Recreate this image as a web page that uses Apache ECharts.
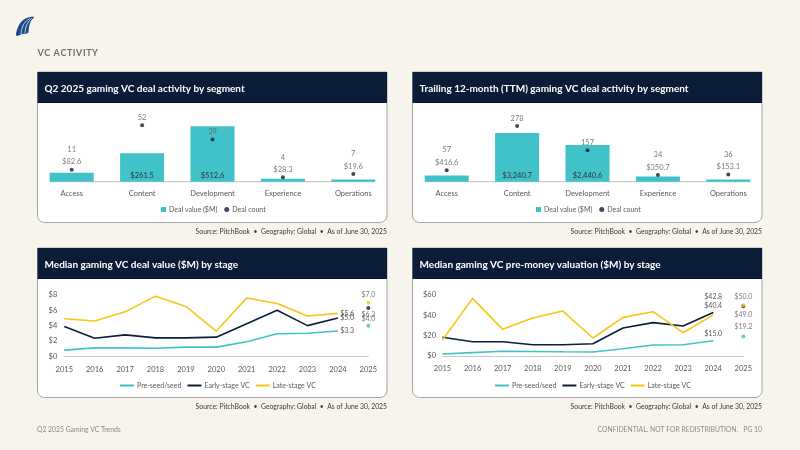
<!DOCTYPE html>
<html>
<head>
<meta charset="utf-8">
<script src="https://cdn.jsdelivr.net/npm/echarts@6/dist/echarts.min.js"></script>
<style>
  html, body { margin: 0; padding: 0; background: #f7f4ee; }
  #main { width: 800px; height: 450px; }
</style>
</head>
<body>
<div id="main"></div>
<script>
// data
const segments = ["Access", "Content", "Development", "Experience", "Operations"];
const q2DealValue = [82.6, 261.5, 512.6, 28.3, 19.6];
const q2DealCount = [11, 52, 39, 4, 7];
const ttmDealValue = [416.6, 3240.7, 2440.6, 350.7, 153.1];
const ttmDealCount = [57, 278, 157, 34, 36];

const years = ["2015", "2016", "2017", "2018", "2019", "2020", "2021", "2022", "2023", "2024", "2025"];
const stages = ["Pre-seed/seed", "Early-stage VC", "Late-stage VC"];
// 2015-2024, 2025 is a separate YTD point
const dealPreSeed = [0.8, 1.1, 1.1, 1.05, 1.2, 1.2, 1.9, 2.95, 3.0, 3.3];
const dealEarly = [3.9, 2.35, 2.8, 2.4, 2.4, 2.5, 4.25, 6.0, 4.0, 5.0];
const dealLate = [4.9, 4.6, 5.8, 7.85, 6.5, 3.3, 7.6, 6.9, 5.25, 5.6];
const dealYtd = [4.0, 6.3, 7.0];
const valPreSeed = [2.0, 3.3, 4.6, 4.5, 4.2, 4.0, 7.2, 10.8, 11.0, 15.0];
const valEarly = [18.4, 14.0, 14.0, 11.1, 11.0, 12.0, 27.5, 32.8, 29.5, 42.8];
const valLate = [15.7, 56.7, 26.2, 37.4, 44.2, 17.7, 38.0, 43.6, 22.9, 40.4];
const valYtd = [19.2, 49.0, 50.0];

const TEAL = "#40c2c8";
const NAVY = "#0b1e3c";
const YELLOW = "#f6c615";
const LABEL = "#595959";
const FONT = "'Liberation Sans Narrow', Lato, sans-serif";
const TITLE_FONT = "Lato, 'Open Sans', sans-serif";
const FS = 7.5;
const LINE_FS = 7;

function money(v) {
  return "$" + v.toLocaleString("en-US", { minimumFractionDigits: 1, maximumFractionDigits: 1 });
}

const panels = [
  { x: 37.5, y: 72, w: 349.5, h: 150.5, title: "Q2 2025 gaming VC deal activity by segment" },
  { x: 412.5, y: 72, w: 349.5, h: 150.5, title: "Trailing 12-month (TTM) gaming VC deal activity by segment" },
  { x: 37.5, y: 248, w: 349.5, h: 149.5, title: "Median gaming VC deal value ($M) by stage" },
  { x: 412.5, y: 248, w: 349.5, h: 149.5, title: "Median gaming VC pre-money valuation ($M) by stage" }
];

const graphics = [];
panels.forEach(function (p) {
  graphics.push({
    type: "rect", shape: { x: p.x, y: p.y, width: p.w, height: p.h, r: [0, 0, 7, 7] },
    style: { fill: "#ffffff", stroke: "#a5a5a5", lineWidth: 1 }, z: -10
  });
  graphics.push({
    type: "rect", shape: { x: p.x, y: p.y, width: p.w, height: 31 },
    style: { fill: "#0a1c37" }, z: -9
  });
  graphics.push({
    type: "text", x: p.x + 7, y: p.y + 16.5,
    style: { text: p.title, fill: "#ffffff", font: "bold 10px " + TITLE_FONT, textVerticalAlign: "middle" }
  });
  graphics.push({
    type: "text", x: p.x + p.w, y: p.y + p.h + 9.5,
    style: {
      text: "Source: PitchBook  \u2022  Geography: Global  \u2022  As of June 30, 2025",
      fill: "#3a3a3a", font: "6.8px " + TITLE_FONT, textAlign: "right", textVerticalAlign: "middle"
    }
  });
});
// baselines of the bar charts
graphics.push({ type: "line", shape: { x1: 50, y1: 181.7, x2: 375, y2: 181.7 }, style: { stroke: "#bfbfbf", lineWidth: 1 }, z: -5 });
graphics.push({ type: "line", shape: { x1: 425, y1: 181.7, x2: 750, y2: 181.7 }, style: { stroke: "#bfbfbf", lineWidth: 1 }, z: -5 });
// logo
graphics.push({
  type: "polygon", shape: { points: [[16, 34], [18, 27], [22, 21], [28, 17.5], [34, 17], [31, 21], [29, 27], [28, 33], [22, 34], [17, 36]], smooth: 0.3 },
  style: { fill: "#1b4a8a" }
});
graphics.push({ type: "polyline", shape: { points: [[21, 34], [22.5, 27], [25.5, 22], [30, 18]], smooth: 0.5 }, style: { stroke: "#f7f4ee", lineWidth: 0.8 } });
graphics.push({ type: "polyline", shape: { points: [[25, 33], [26, 27], [28.5, 22], [32, 18]], smooth: 0.5 }, style: { stroke: "#f7f4ee", lineWidth: 0.8 } });
// page texts
graphics.push({ type: "text", x: 37.5, y: 53.5, style: { text: "VC ACTIVITY".split("").join("\u200A"), fill: "#6e6e6e", font: "bold 9px " + TITLE_FONT, textVerticalAlign: "middle" } });
graphics.push({ type: "text", x: 37, y: 430, style: { text: "Q2 2025 Gaming VC Trends", fill: "#8a8a8a", font: "6.8px " + TITLE_FONT, textVerticalAlign: "middle" } });
graphics.push({ type: "text", x: 762, y: 430, style: { text: "CONFIDENTIAL. NOT FOR REDISTRIBUTION.   PG 10", fill: "#8a8a8a", font: "6.8px " + TITLE_FONT, textAlign: "right", textVerticalAlign: "middle" } });

function barSeries(values, xi, yi) {
  const max = Math.max.apply(null, values);
  return {
    name: "Deal value ($M)", type: "bar", xAxisIndex: xi, yAxisIndex: yi, barWidth: 44,
    itemStyle: { color: TEAL }, z: 2,
    data: values.map(function (v) {
      return { value: v, label: { show: v > 0.3 * max } };
    }),
    label: {
      position: "insideBottom", distance: 2, color: "#333", fontSize: FS, fontFamily: FONT,
      formatter: function (p) { return money(p.value); }
    }
  };
}
function countSeries(counts, values, xi, yi) {
  const max = Math.max.apply(null, values);
  return {
    name: "Deal count", type: "scatter", xAxisIndex: xi, yAxisIndex: yi, symbolSize: 4,
    itemStyle: { color: NAVY }, z: 3,
    data: counts,
    label: {
      show: true, position: "top", distance: -0.5, lineHeight: 12.5, color: LABEL, fontSize: FS, fontFamily: FONT,
      formatter: function (p) {
        const v = values[p.dataIndex];
        return v > 0.3 * max ? String(p.value) : p.value + "\n" + money(v);
      }
    }
  };
}
function lineSeries(name, values, color, xi, yi, lbl) {
  return {
    name: name, type: "line", xAxisIndex: xi, yAxisIndex: yi, symbol: "circle", symbolSize: 0.5,
    lineStyle: { color: color, width: 1.6 }, itemStyle: { color: color }, z: 3,
    emphasis: { disabled: true },
    data: values.map(function (v, i) {
      return i === values.length - 1 ? { value: v, label: Object.assign({ show: true }, lbl) } : v;
    }),
    label: {
      show: false, color: LABEL, fontSize: LINE_FS, fontFamily: FONT,
      formatter: function (p) { return money(p.value); }
    }
  };
}
function ytdSeries(name, value, color, xi, yi, pos, dist) {
  return {
    name: name + " 2025", type: "scatter", xAxisIndex: xi, yAxisIndex: yi, symbolSize: 4,
    itemStyle: { color: color }, z: 4,
    data: [[years[10], value]],
    label: {
      show: true, position: pos, distance: dist, color: LABEL, fontSize: LINE_FS, fontFamily: FONT,
      formatter: function (p) { return money(p.value[1]); }
    }
  };
}

const axisLabelStyle = { color: LABEL, fontSize: FS, fontFamily: FONT };

function catAxis(grid, data, lines) {
  return {
    type: "category", gridIndex: grid, data: data, boundaryGap: !lines,
    axisLine: { show: !!lines, lineStyle: { color: "#c8c8c8", width: 1 } },
    axisTick: { show: false },
    axisLabel: Object.assign({ margin: lines ? 9 : 8, interval: 0 }, axisLabelStyle)
  };
}
function hiddenAxis(grid, max) {
  return { type: "value", gridIndex: grid, min: 0, max: max, show: false, splitLine: { show: false } };
}
function moneyAxis(grid, max, interval, margin) {
  return {
    type: "value", gridIndex: grid, min: 0, max: max, interval: interval,
    axisLine: { show: false }, axisTick: { show: false }, splitLine: { show: false },
    axisLabel: Object.assign({ margin: margin, formatter: function (v) { return "$" + v; } }, axisLabelStyle)
  };
}

function legend(left, top, items, w, h, gap) {
  return {
    left: left, top: top, itemWidth: w, itemHeight: h, itemGap: gap,
    textStyle: { color: LABEL, fontSize: 7, fontFamily: FONT, padding: [0, 0, 0, -2] },
    selectedMode: false, data: items
  };
}

const option = {
  animation: false,
  backgroundColor: "#f7f4ee",
  textStyle: { fontFamily: FONT },
  graphic: { elements: graphics },
  grid: [
    { left: 36.5, top: 116.7, width: 352, height: 65 },
    { left: 411.5, top: 121.7, width: 352, height: 60 },
    { left: 64.3, top: 295, width: 304, height: 61.3 },
    { left: 442.5, top: 295, width: 300.8, height: 61 }
  ],
  xAxis: [
    catAxis(0, segments, false),
    catAxis(1, segments, false),
    catAxis(2, years, true),
    catAxis(3, years, true)
  ],
  yAxis: [
    hiddenAxis(0, 600), hiddenAxis(0, 60),
    hiddenAxis(1, 4000), hiddenAxis(1, 300),
    moneyAxis(2, 8, 2, 7),
    moneyAxis(3, 60, 20, 6.5)
  ],
  legend: [
    legend(156, 201, [{ name: "Deal value ($M)", icon: "rect" }, { name: "Deal count", icon: "circle" }], 5, 5, 7),
    legend(531, 201, [{ name: "Deal value ($M)", icon: "rect" }, { name: "Deal count", icon: "circle" }], 5, 5, 7),
    legend(115, 377, stages.map(function (s) { return { name: s, icon: "rect" }; }), 14, 2, 6),
    legend(490, 377, stages.map(function (s) { return { name: s, icon: "rect" }; }), 14, 2, 6)
  ],
  series: [
    barSeries(q2DealValue, 0, 0),
    countSeries(q2DealCount, q2DealValue, 0, 1),
    barSeries(ttmDealValue, 1, 2),
    countSeries(ttmDealCount, ttmDealValue, 1, 3),

    lineSeries(stages[0], dealPreSeed, TEAL, 2, 4, { position: "right", distance: 2 }),
    lineSeries(stages[1], dealEarly, NAVY, 2, 4, { position: "right", distance: 2 }),
    lineSeries(stages[2], dealLate, YELLOW, 2, 4, { position: "right", distance: 2 }),
    ytdSeries(stages[0], dealYtd[0], TEAL, 2, 4, "top", 1),
    ytdSeries(stages[1], dealYtd[1], NAVY, 2, 4, "bottom", 1),
    ytdSeries(stages[2], dealYtd[2], YELLOW, 2, 4, "top", 2),

    lineSeries(stages[0], valPreSeed, TEAL, 3, 5, { position: "top", distance: 3 }),
    lineSeries(stages[1], valEarly, NAVY, 3, 5, { position: "top", distance: 12 }),
    lineSeries(stages[2], valLate, YELLOW, 3, 5, { position: "top", distance: 5.5 }),
    ytdSeries(stages[0], valYtd[0], TEAL, 3, 5, "top", 4),
    ytdSeries(stages[1], valYtd[1], NAVY, 3, 5, "bottom", 3.5),
    ytdSeries(stages[2], valYtd[2], YELLOW, 3, 5, "top", 3)
  ]
};

const chart = echarts.init(document.getElementById("main"), null, { renderer: "canvas" });
chart.setOption(option);
</script>
</body>
</html>
